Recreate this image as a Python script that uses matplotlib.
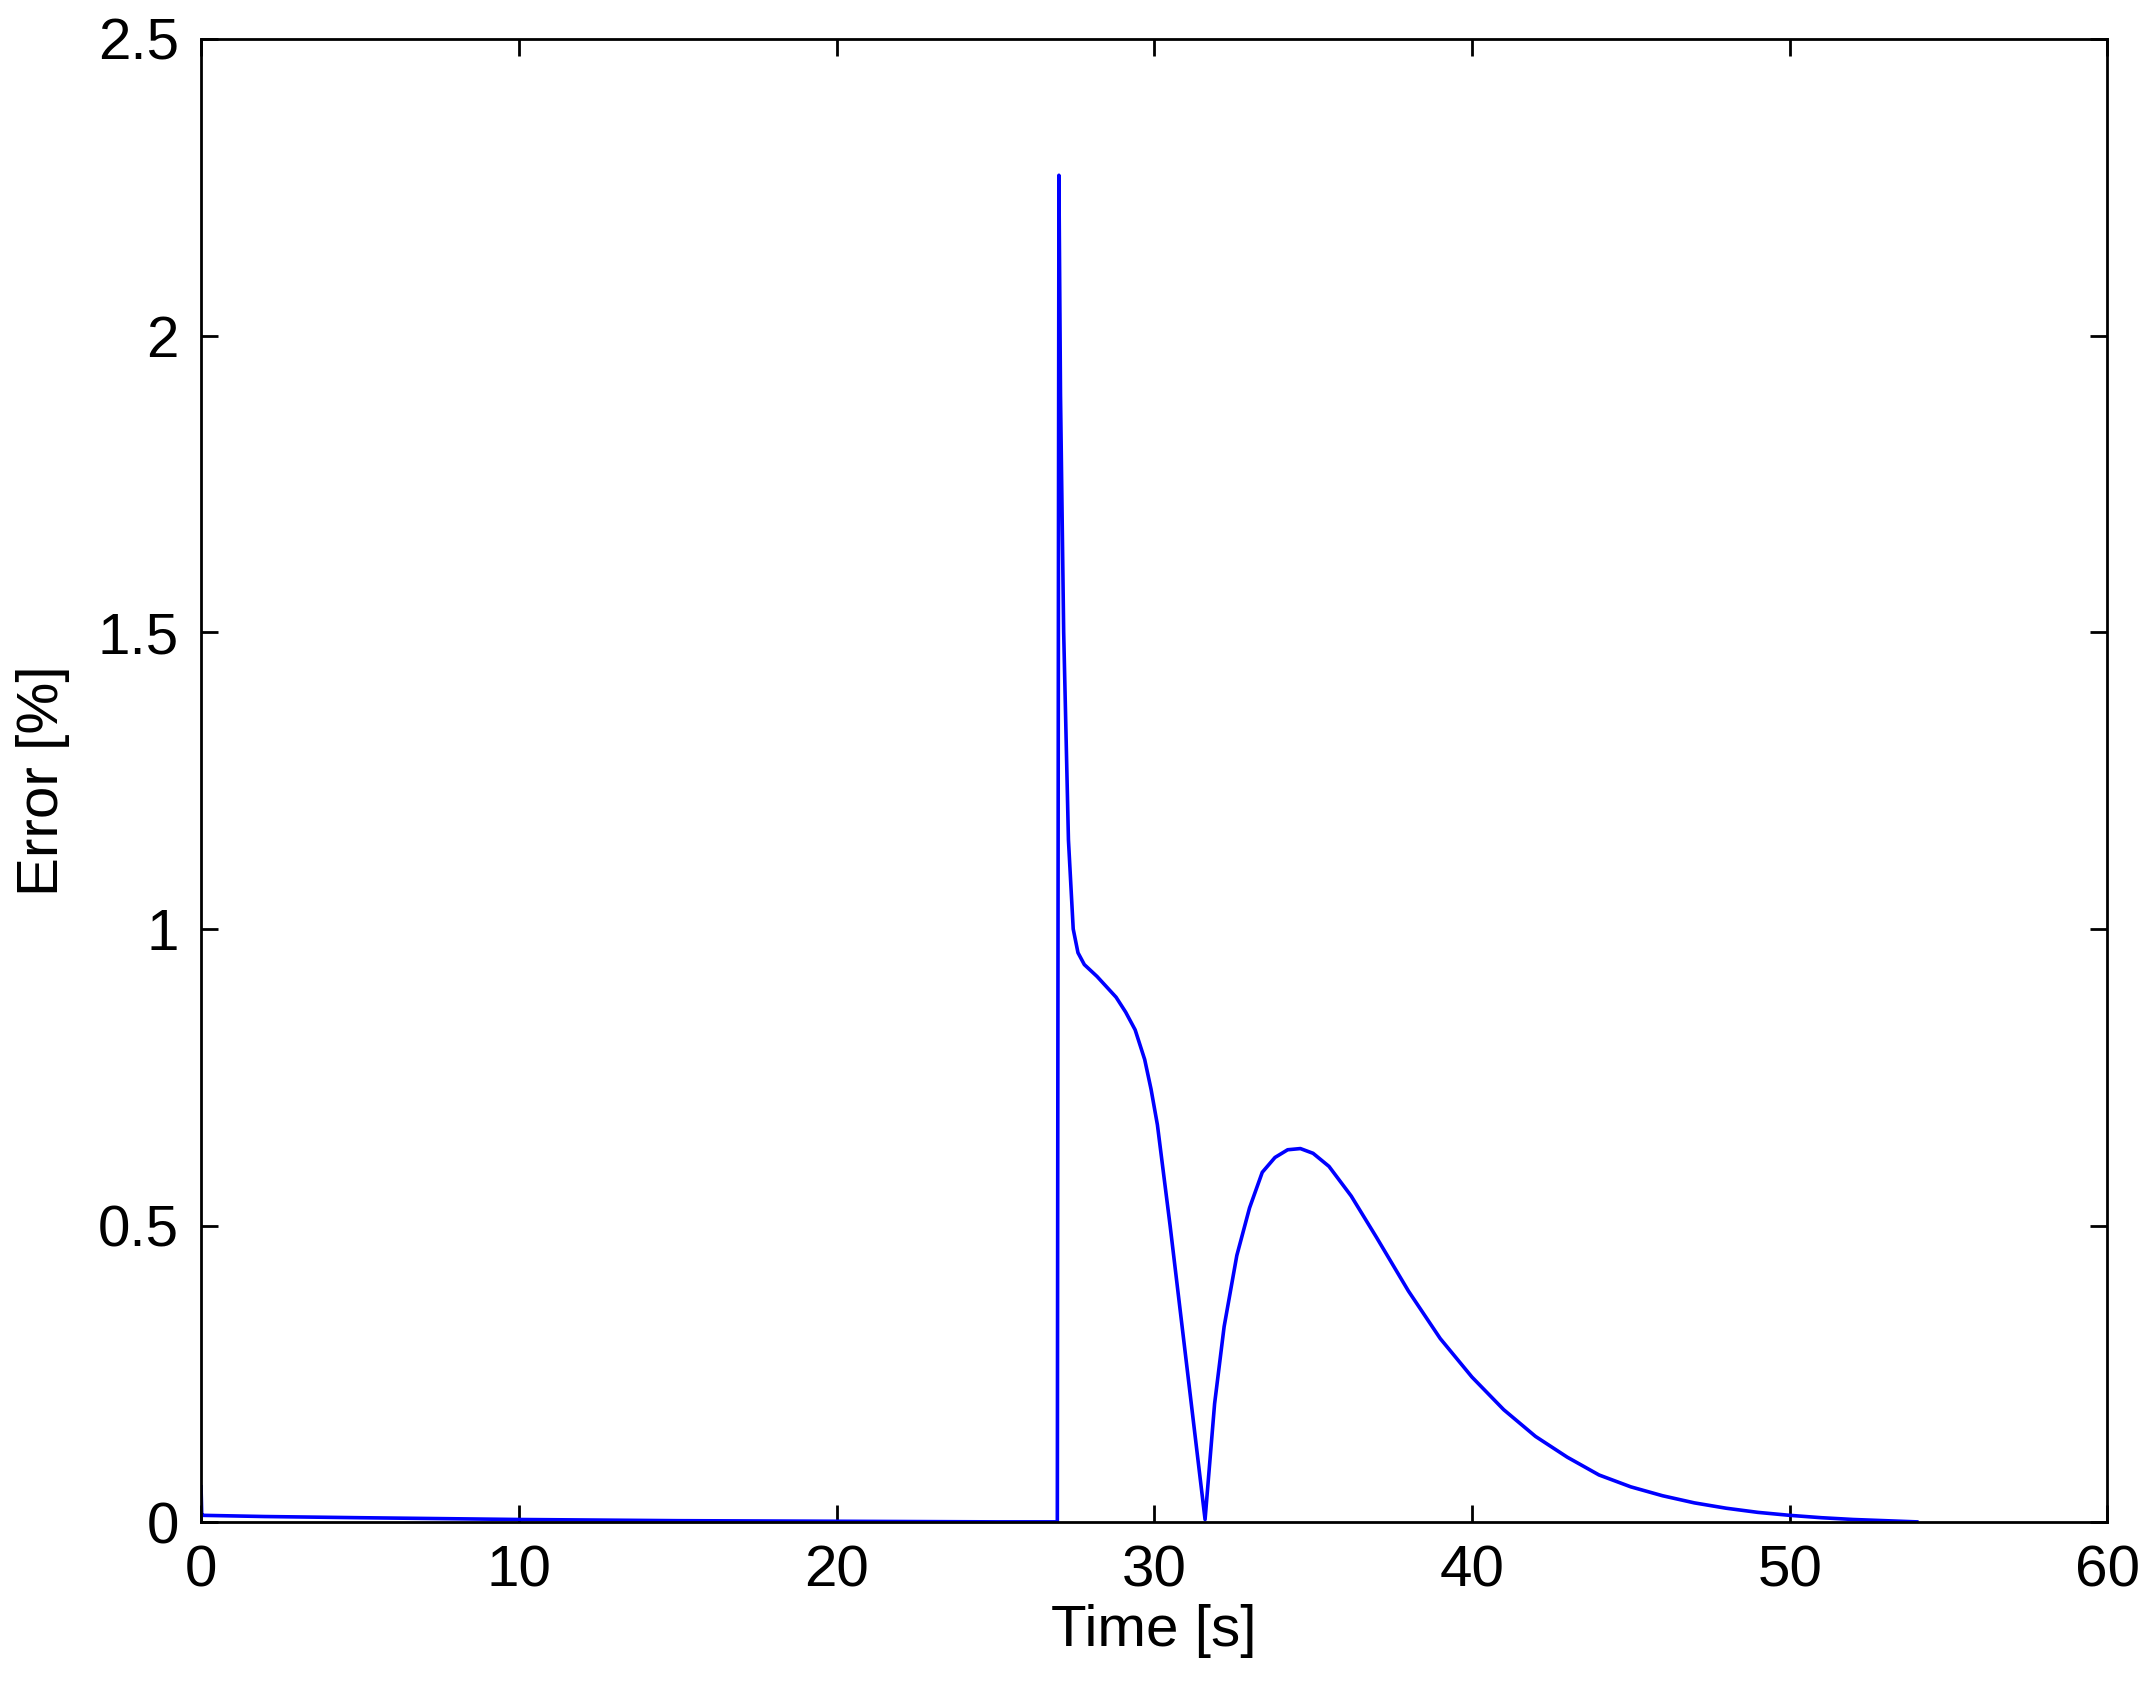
import matplotlib
matplotlib.use("Agg")
import matplotlib.pyplot as plt

plt.rcParams['font.family'] = ['Liberation Sans', 'DejaVu Sans']

# error curve
time = [0.0, 0.02, 0.05, 2, 5, 10, 15, 20, 25, 26.95, 27.0, 27.05, 27.15, 27.3, 27.45,
        27.6, 27.8, 28.2, 28.8, 29.1, 29.4, 29.7, 29.9, 30.1, 30.5, 30.9, 31.3, 31.6,
        31.9, 32.2, 32.6, 33.0, 33.4, 33.8, 34.2, 34.6, 35.0, 35.5, 36.2, 37.0,
        38.0, 39.0, 40.0, 41.0, 42.0, 43.0, 44.0, 45.0, 46.0, 47.0, 48.0,
        49.0, 50.0, 51.0, 52.0, 53.0, 54.0]
error = [0.06, 0.015, 0.012, 0.01, 0.008, 0.005, 0.003, 0.002, 0.001, 0.001, 2.27, 1.9, 1.5,
         1.15, 1.0, 0.96, 0.94, 0.92, 0.885, 0.86, 0.83, 0.78, 0.73, 0.67, 0.5, 0.32, 0.14, 0.005,
         0.2, 0.33, 0.45, 0.53, 0.59, 0.615, 0.628, 0.63, 0.622, 0.6, 0.55, 0.48,
         0.39, 0.31, 0.245, 0.19, 0.145, 0.11, 0.08, 0.06, 0.045, 0.033, 0.024,
         0.017, 0.012, 0.008, 0.005, 0.003, 0.001]

fig = plt.figure(figsize=(10.74, 8.43), dpi=200)
ax = fig.add_axes([0.0936, 0.097, 0.8875, 0.88])
ax.plot(time, error, color='#0000ff', linewidth=1.3)
ax.set_xlim(0, 60)
ax.set_ylim(0, 2.5)
ax.set_xticks([0, 10, 20, 30, 40, 50, 60])
ax.set_yticks([0, 0.5, 1, 1.5, 2, 2.5])
ax.set_yticklabels(['0', '0.5', '1', '1.5', '2', '2.5'])
ax.tick_params(direction='in', top=True, right=True, labelsize=21, length=6, width=1, pad=8)
for s in ax.spines.values():
    s.set_linewidth(1)
ax.set_xlabel('Time [s]', fontsize=21, labelpad=2)
ax.set_ylabel('Error [%]', fontsize=21, labelpad=10)
fig.savefig('out.png')
